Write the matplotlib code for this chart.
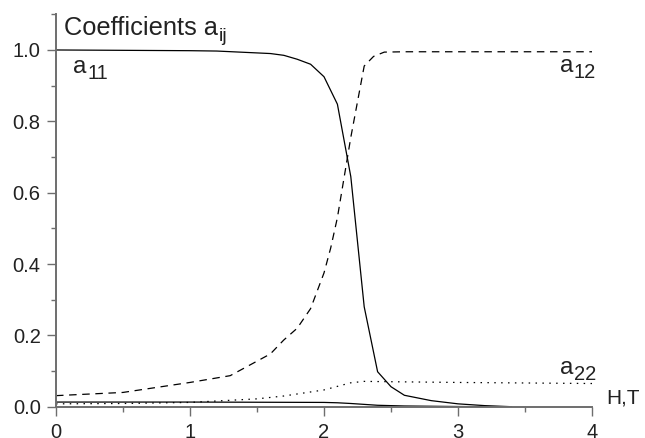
import matplotlib
matplotlib.use("Agg")
import matplotlib.pyplot as plt
from matplotlib.ticker import MultipleLocator
from matplotlib.transforms import offset_copy

plt.rcParams['font.family'] = ['Liberation Sans', 'DejaVu Sans']

# data
x_a11 = [0, 0.5, 1.0, 1.2, 1.6, 1.7, 1.8, 1.9, 2.0, 2.1, 2.2, 2.3, 2.4, 2.5, 2.6, 2.8, 3.0, 3.2, 3.4]
a11 = [1.0, 0.999, 0.998, 0.997, 0.990, 0.985, 0.974, 0.960, 0.925, 0.848, 0.645, 0.280, 0.098, 0.056, 0.032, 0.017, 0.008, 0.003, 0.0]

x_a12 = [0, 0.5, 1.0, 1.3, 1.6, 1.7, 1.8, 1.9, 2.0, 2.05, 2.1, 2.2, 2.3, 2.37, 2.45, 2.6, 3.0, 4.0]
a12 = [0.031, 0.040, 0.068, 0.087, 0.148, 0.187, 0.220, 0.275, 0.375, 0.445, 0.530, 0.755, 0.955, 0.982, 0.994, 0.995, 0.995, 0.995]

x_a22 = [0, 0.5, 1.0, 1.5, 1.7, 2.0, 2.1, 2.2, 2.3, 2.5, 3.0, 4.0]
a22 = [0.008, 0.009, 0.012, 0.022, 0.030, 0.047, 0.057, 0.067, 0.071, 0.070, 0.068, 0.065]

x_a21 = [0, 1.0, 2.0, 2.1, 2.2, 2.4, 2.6, 3.0, 3.3]
a21 = [0.013, 0.013, 0.012, 0.011, 0.009, 0.004, 0.002, 0.0005, 0.0]

xticks = [0, 1, 2, 3, 4]
yticks = [0.0, 0.2, 0.4, 0.6, 0.8, 1.0]

fig = plt.figure(figsize=(6.45, 4.38), dpi=100)
ax = fig.add_axes([56/645, 1 - 406.7/438, (592-56)/645, (406.7-14.3)/438])

lw = 0.9
ax.plot(x_a11, a11, color='black', lw=lw)
l12, = ax.plot(x_a12, a12, color='black', lw=lw)
l12.set_dashes([6, 4.5])
l22, = ax.plot(x_a22, a22, color='black', lw=lw)
l22.set_dashes([1.2, 4.3])
ax.plot(x_a21, a21, color='black', lw=lw)

ax.set_xlim(0, 4)
ax.set_ylim(0, 1.1)
ax.set_xticks(xticks)
ax.set_xticklabels([str(t) for t in xticks])
ax.set_yticks(yticks)
ax.set_yticklabels([f"{t:.1f}" for t in yticks])
ax.xaxis.set_minor_locator(MultipleLocator(0.5))
ax.yaxis.set_minor_locator(MultipleLocator(0.1))

spc = '#6e6e6e'
for s in ['top', 'right']:
    ax.spines[s].set_visible(False)
for s in ['left', 'bottom']:
    ax.spines[s].set_color(spc)
    ax.spines[s].set_linewidth(1.4)
ax.tick_params(which='major', length=6.5, width=1.0, color=spc, labelsize=14.5, pad=4.5, labelcolor='#222222')
ax.tick_params(which='minor', length=3.5, width=1.0, color=spc)
ax.tick_params(axis='x', which='major', pad=5.0)

tc = '#222222'
fig.canvas.draw()
renderer = fig.canvas.get_renderer()


def sub_label(x, y, main, sub, size=17.5, subsize=14.5, dy=-4.3):
    t = ax.text(x, y, main, fontsize=size, color=tc, ha='left', va='baseline', clip_on=False)
    w = t.get_window_extent(renderer=renderer).width * 72.0 / fig.dpi
    tr = offset_copy(ax.transData, fig=fig, x=w + 0.5, y=dy, units='points')
    ax.text(x, y, sub, fontsize=subsize, color=tc, ha='left', va='baseline', transform=tr, clip_on=False)


sub_label(0.06, 1.042, 'Coefficients a', 'ij', size=18.3, subsize=14, dy=-4.6)
sub_label(0.13, 0.936, 'a', '11')
sub_label(3.76, 0.939, 'a', '12')
sub_label(3.76, 0.092, 'a', '22')
ax.text(4.11, 0.008, 'H,T', fontsize=15, color=tc, ha='left', va='baseline', clip_on=False)

fig.savefig('out.png', dpi=100)
